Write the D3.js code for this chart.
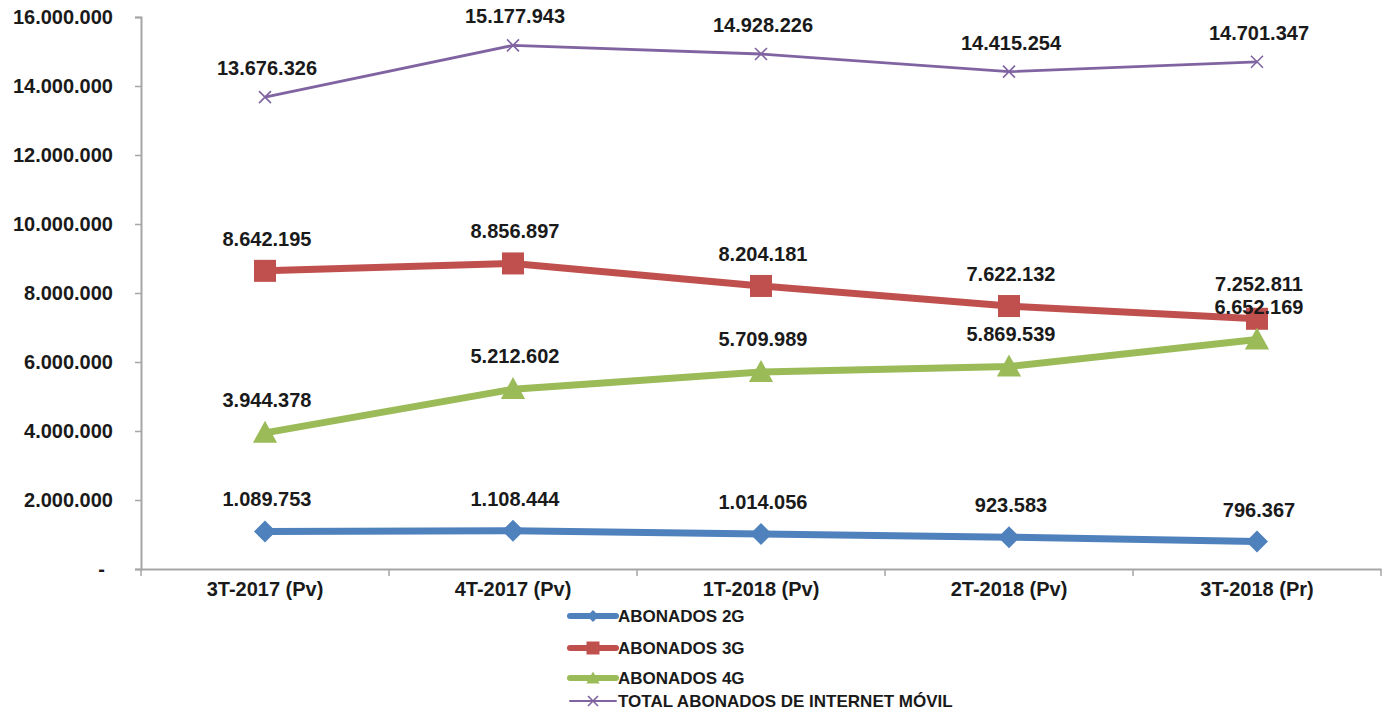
<!DOCTYPE html>
<html><head><meta charset="utf-8">
<script src="https://cdn.jsdelivr.net/npm/d3@7"></script>
<style>body{margin:0;background:#fff}svg{display:block}text{font-family:"Liberation Sans",Arial,sans-serif;font-weight:bold;fill:#1a1a1a}</style>
</head><body><svg id="c" width="1389" height="715"></svg>
<script>
const categories = ["3T-2017 (Pv)","4T-2017 (Pv)","1T-2018 (Pv)","2T-2018 (Pv)","3T-2018 (Pr)"];
const abonados2G = [1089753,1108444,1014056,923583,796367];
const abonados3G = [8642195,8856897,8204181,7622132,7252811];
const abonados4G = [3944378,5212602,5709989,5869539,6652169];
const totalInternet = [13676326,15177943,14928226,14415254,14701347];
const yTicks = [0,2000000,4000000,6000000,8000000,10000000,12000000,14000000,16000000];
const seriesNames = ["ABONADOS 2G","ABONADOS 3G","ABONADOS 4G","TOTAL ABONADOS DE INTERNET MÓVIL"];

(function(){
const svg = d3.select("#c");
const mLeft=141, mRight=1381, mTop=17, mBottom=569;
const x = d3.scaleBand().domain(categories).range([mLeft,mRight]);
const y = d3.scaleLinear().domain([0,16000000]).range([mBottom,mTop]);
const fmt = v => d3.format(",")(v).replace(/,/g,".");
const FS = "20px";

const yAx = svg.append("g").attr("transform",`translate(${mLeft},0)`)
  .call(d3.axisLeft(y).tickValues(yTicks).tickSize(6).tickFormat(d=> d===0?"-":fmt(d)));
yAx.select(".domain").attr("stroke","#a6a6a6").attr("stroke-width",2);
yAx.selectAll(".tick line").attr("stroke","#a6a6a6").attr("stroke-width",1.5);
yAx.selectAll(".tick text").attr("x",-28).style("font-size",FS).attr("fill","#1a1a1a");
yAx.selectAll(".tick text").filter(d=>d===0).attr("x",-36);

const xAx = svg.append("g").attr("transform",`translate(0,${mBottom})`)
  .call(d3.axisBottom(x).tickSize(0).tickFormat(d=>d));
xAx.select(".domain").attr("stroke","#a6a6a6").attr("stroke-width",2);
xAx.selectAll(".tick text").attr("y",13).style("font-size",FS).attr("fill","#1a1a1a");
const bounds = categories.map(c=>x(c)).concat([mRight]);
svg.append("g").selectAll("line").data(bounds).join("line")
  .attr("x1",d=>d).attr("x2",d=>d).attr("y1",mBottom).attr("y2",mBottom+7)
  .attr("stroke","#a6a6a6").attr("stroke-width",1.5);

const cx = c => x(c)+x.bandwidth()/2;
const series = [
  {name:seriesNames[0],vals:abonados2G,color:"#4F81BD",w:7,m:"diamond"},
  {name:seriesNames[1],vals:abonados3G,color:"#C0504D",w:7,m:"square"},
  {name:seriesNames[2],vals:abonados4G,color:"#9BBB59",w:7,m:"triangle"},
  {name:seriesNames[3],vals:totalInternet,color:"#8064A2",w:2.8,m:"x"}
];
const line = d3.line().x((d,i)=>cx(categories[i])).y(d=>y(d));

function marker(g,type,color,px,py,s){
  if(type==="diamond") g.append("path").attr("d",`M${px},${py-s/2}L${px+s/2},${py}L${px},${py+s/2}L${px-s/2},${py}Z`).attr("fill",color);
  if(type==="square") g.append("rect").attr("x",px-s/2).attr("y",py-s/2).attr("width",s).attr("height",s).attr("fill",color);
  if(type==="triangle") g.append("path").attr("d",`M${px},${py-s*0.55}L${px+s*0.55},${py+s*0.45}L${px-s*0.55},${py+s*0.45}Z`).attr("fill",color);
  if(type==="x") g.append("path").attr("d",`M${px-s/2},${py-s/2}L${px+s/2},${py+s/2}M${px-s/2},${py+s/2}L${px+s/2},${py-s/2}`).attr("stroke",color).attr("stroke-width",1.6);
}

const sizes={diamond:22,square:22,triangle:22,x:12};
series.forEach(s=>{
  const g=svg.append("g");
  g.append("path").datum(s.vals).attr("d",line).attr("fill","none").attr("stroke",s.color).attr("stroke-width",s.w).attr("stroke-linejoin","round");
  s.vals.forEach((v,i)=>marker(g,s.m,s.color,cx(categories[i]),y(v),sizes[s.m]));
});
series.forEach(s=>{
  svg.append("g").selectAll("text").data(s.vals).join("text")
    .attr("x",(d,i)=>cx(categories[i])+2)
    .attr("y",(d,i)=>{
      let off=-25;
      if(s.m==="x") off=-22;
      if(s.m==="triangle") off=-26;
      if(s.m==="square" && i===4) off=-28;
      return y(d)+off;
    })
    .attr("text-anchor","middle").style("font-size",FS).text(d=>fmt(d));
});

const legY=[616,648,678,701];
series.forEach((s,i)=>{
  const g=svg.append("g");
  const ly=legY[i];
  g.append("line").attr("x1",570).attr("x2",616).attr("y1",ly).attr("y2",ly).attr("stroke",s.color).attr("stroke-width",s.m==="x"?2:6).attr("stroke-linecap","round");
  marker(g,s.m,s.color,593,ly,s.m==="x"?10:(s.m==="square"?13:12));
  g.append("text").attr("x",618).attr("y",ly+6).style("font-size","17px").text(s.name);
});
})();
</script></body></html>
